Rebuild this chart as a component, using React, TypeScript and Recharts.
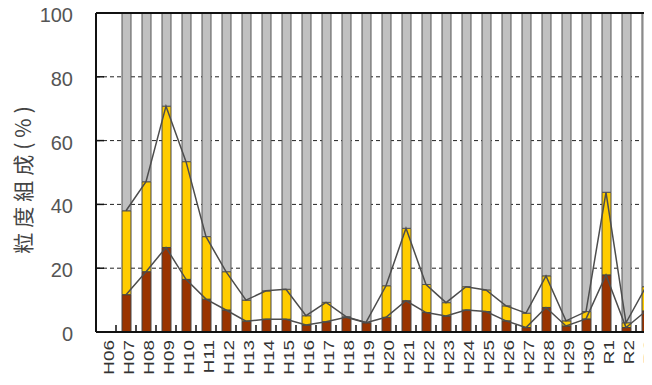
import {
	Bar,
	CartesianGrid,
	ComposedChart,
	Line,
	ReferenceLine,
	XAxis,
	YAxis,
} from "recharts";

// Survey years (Heisei H06–H30, Reiwa R1–R3)
const years = [
	"H06", "H07", "H08", "H09", "H10", "H11", "H12", "H13", "H14", "H15",
	"H16", "H17", "H18", "H19", "H20", "H21", "H22", "H23", "H24", "H25",
	"H26", "H27", "H28", "H29", "H30", "R1", "R2", "R3",
];

// Fine fraction (brown), % — top of the lower band
const fineShare = [
	null, 11.7, 18.9, 26.5, 16.5, 10.3, 6.9, 3.4, 4.0, 4.0,
	2.2, 3.2, 4.6, 2.9, 4.6, 9.8, 6.1, 5.0, 6.9, 6.4,
	3.5, 1.4, 7.7, 1.9, 4.1, 17.9, 1.4, 6.6,
];

// Fine + sand (brown + yellow), % — top of the middle band
const sandTop = [
	null, 38.0, 47.1, 70.8, 53.4, 29.9, 18.9, 10.0, 12.9, 13.4,
	5.1, 9.3, 4.8, 3.0, 14.5, 32.5, 14.9, 9.2, 14.2, 13.2,
	8.2, 5.9, 17.6, 3.5, 6.4, 43.8, 2.9, 14.2,
];

const yTicks = [0, 20, 40, 60, 80, 100];

const data = years.map((year, i) => {
	const fine = fineShare[i];
	const top = sandTop[i];
	return {
		year,
		fine,
		top,
		sand: fine == null || top == null ? null : +(top - fine).toFixed(1),
		gravel: top == null ? null : +(100 - top).toFixed(1),
	};
});

const FONT = "'Liberation Sans', Arial, sans-serif";
const BAND = 20; // px per category

function XTick(props: any) {
	const { x, y, payload } = props;
	return (
		<g>
			<line x1={x + BAND / 2} x2={x + BAND / 2} y1={y - 1} y2={y - 7} stroke="#111" strokeWidth={1.5} />
			<text
				transform={`translate(${x + 3},${y + 8}) rotate(-90) scale(1.35,1)`}
				textAnchor="end"
				dominantBaseline="central"
				fontSize={14}
				fontFamily={FONT}
				fill="#333"
			>
				{payload.value}
			</text>
		</g>
	);
}

function YTick(props: any) {
	const { x, y, payload } = props;
	return (
		<g>
			{payload.value > 0 && payload.value < 100 && (
				<line x1={x + 23} x2={x + 31} y1={y} y2={y} stroke="#111" strokeWidth={1.5} />
			)}
			<text
				x={x}
				y={y + 2}
				textAnchor="end"
				dominantBaseline="central"
				fontSize={20}
				fontFamily={FONT}
				fill="#555"
			>
				{payload.value}
			</text>
		</g>
	);
}

export default function App() {
	return (
		<div
			style={{
				margin: -8,
				width: 652,
				height: 385,
				overflow: "hidden",
				position: "relative",
				background: "#fff",
			}}
		>
			<ComposedChart
				width={680}
				height={385}
				data={data}
				margin={{ top: 13, right: 24, left: 0, bottom: 0 }}
				barSize={9}
				style={{ position: "absolute", left: 0, top: 0 }}
			>
				<CartesianGrid vertical={false} stroke="#222" strokeDasharray="4 3" />
				<XAxis
					dataKey="year"
					height={53}
					interval={0}
					tickLine={false}
					tickSize={0}
					tickMargin={0}
					axisLine={{ stroke: "#111", strokeWidth: 2 }}
					tick={<XTick />}
				/>
				<YAxis
					width={96}
					domain={[0, 100]}
					ticks={yTicks}
					interval={0}
					tickLine={false}
					tickSize={0}
					tickMargin={23}
					axisLine={{ stroke: "#111", strokeWidth: 2 }}
					tick={<YTick />}
					label={({ viewBox }: any) => (
						<text
							transform={`translate(22,${viewBox.y + viewBox.height / 2 + 5}) rotate(-90)`}
							textAnchor="middle"
							dominantBaseline="central"
							fontSize={21}
							letterSpacing={5}
							fontFamily="'Noto Sans CJK JP', sans-serif"
							fill="#444"
						>
							粒度組成(%)
						</text>
					)}
				/>
				<Bar dataKey="fine" stackId="a" fill="#993300" stroke="#444" strokeWidth={1} isAnimationActive={false} />
				<Bar dataKey="sand" stackId="a" fill="#ffcc00" stroke="#444" strokeWidth={1} isAnimationActive={false} />
				<Bar dataKey="gravel" stackId="a" fill="#c0c0c0" stroke="#555" strokeWidth={1} isAnimationActive={false} />
				<Line dataKey="fine" type="linear" stroke="#4d4d4d" strokeWidth={1.5} dot={false} isAnimationActive={false} />
				<Line dataKey="top" type="linear" stroke="#4d4d4d" strokeWidth={1.5} dot={false} isAnimationActive={false} />
				<ReferenceLine y={100} stroke="#111" strokeWidth={2} />
			</ComposedChart>
			<div
				style={{
					position: "absolute",
					left: 0,
					top: 74,
					width: 6,
					height: 219,
					background: "#a8e4d0",
					zIndex: 1,
				}}
			/>
		</div>
	);
}
